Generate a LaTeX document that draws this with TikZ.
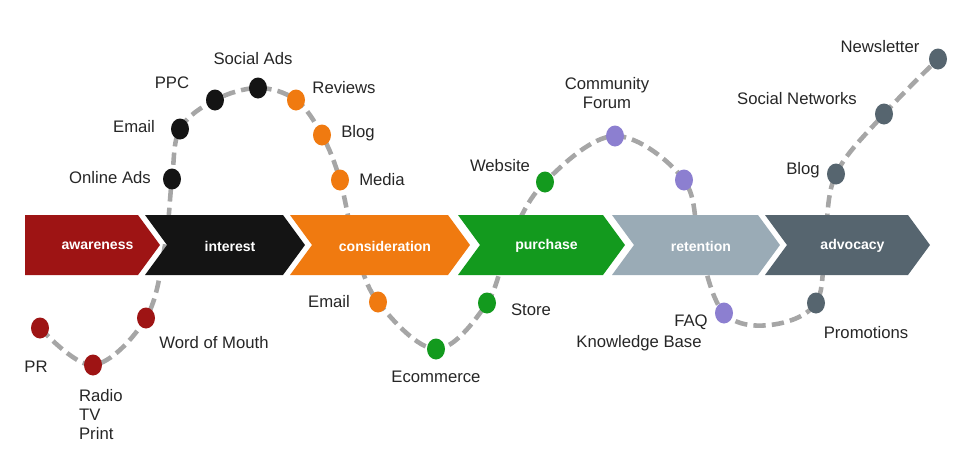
\documentclass[tikz,border=0pt]{standalone}
\usepackage{fontspec}
\usetikzlibrary{shapes.geometric}
\setmainfont{Liberation Sans}
\begin{document}
\begin{tikzpicture}[x=0.02cm,y=-0.02cm,
  lab/.style={font=\fontsize{9.5}{11}\selectfont, text=black!85, inner sep=1pt},
  stage/.style={font=\fontsize{8}{9}\bfseries\selectfont, text=white},
  dot/.style={ellipse, minimum width=18*0.02cm, minimum height=21*0.02cm, inner sep=0pt, fill=#1},
  path1/.style={draw=gray!70, line width=2.6pt, dash pattern=on 7pt off 3.5pt}]
\useasboundingbox (0,0) rectangle (958,458);
\definecolor{cred}{HTML}{9E1414}
\definecolor{cblack}{HTML}{141414}
\definecolor{corange}{HTML}{F07A10}
\definecolor{cgreen}{HTML}{139A1E}
\definecolor{cviolet}{HTML}{8C7FD0}
\definecolor{cslate}{HTML}{56656F}
\definecolor{cret}{HTML}{9AABB6}
% curve
\draw[path1] plot[smooth, tension=0.6] coordinates {(40,328) (93,365) (146,318) (165,245) (172,179) (180,129) (215,100) (258,88) (296,100) (322,135) (340,180) (355,245) (378,302) (436,349) (487,303) (510,240) (545,182) (615,136) (684,180) (700,250) (724,313) (770,325) (816,303) (825,240) (836,174) (884,114) (938,59)};
% chevrons
\foreach \a/\b/\c/\t/\n in {25/160/cred/awareness/s1,145/305/cblack/interest/s2,290/470/corange/consideration/s3,458/625/cgreen/purchase/s4,612/780/cret/retention/s5,765/930/cslate/advocacy/s6}{
  \fill[\c] (\a,215) -- (\b-22,215) -- (\b,245) -- (\b-22,275) -- (\a,275) -- (\a+22,245) -- cycle;
  \node[stage] (\n) at ({(\a+\b)/2+5},246) {\t};
}
\fill[cred] (25,215) rectangle (50,275);
% dots
\foreach \x/\y/\c/\n in {40/328/cred/d1,93/365/cred/d2,146/318/cred/d3,172/179/cblack/d4,180/129/cblack/d5,215/100/cblack/d6,258/88/cblack/d7,296/100/corange/d8,322/135/corange/d9,340/180/corange/d10,378/302/corange/d11,436/349/cgreen/d12,487/303/cgreen/d13,545/182/cgreen/d14,615/136/cviolet/d15,684/180/cviolet/d16,724/313/cviolet/d17,816/303/cslate/d18,836/174/cslate/d19,884/114/cslate/d20,938/59/cslate/d21}
  \node[dot=\c] (\n) at (\x,\y) {};
% labels
\node[lab] (l1) at (36,367) {PR};
\node[lab, align=left, anchor=north west] (l2) at (77,387) {Radio\\TV\\Print};
\node[lab] (l3) at (214,343) {Word of Mouth};
\node[lab] (l4) at (110,178) {Online Ads};
\node[lab] (l5) at (134,127) {Email};
\node[lab] (l6) at (172,83) {PPC};
\node[lab] (l7) at (253,59) {Social Ads};
\node[lab] (l8) at (344,88) {Reviews};
\node[lab] (l9) at (358,133) {Blog};
\node[lab] (l10) at (382,180) {Media};
\node[lab] (l11) at (329,302) {Email};
\node[lab] (l12) at (436,377) {Ecommerce};
\node[lab] (l13) at (531,310) {Store};
\node[lab] (l14) at (500,166) {Website};
\node[lab, align=center] (l15) at (607,93) {Community\\Forum};
\node[lab] (l16) at (691,322) {FAQ};
\node[lab] (l17) at (639,343) {Knowledge Base};
\node[lab] (l18) at (866,333) {Promotions};
\node[lab] (l19) at (803,170) {Blog};
\node[lab] (l20) at (797,99) {Social Networks};
\node[lab] (l21) at (880,47) {Newsletter};
\end{tikzpicture}
\end{document}
